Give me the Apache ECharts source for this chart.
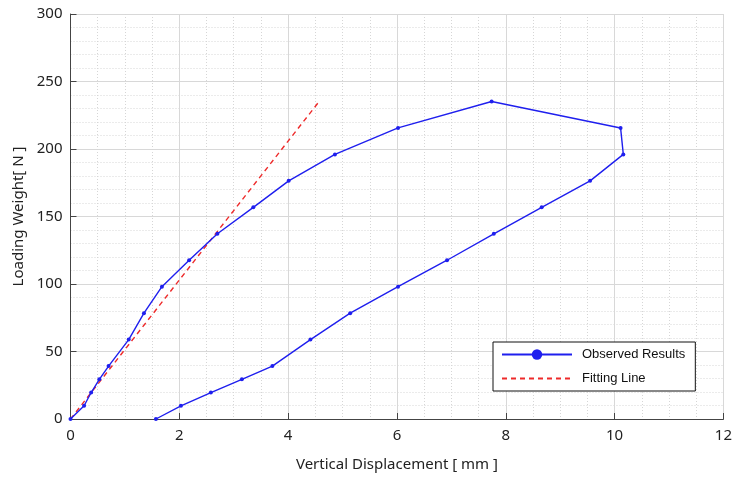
<!DOCTYPE html>
<html><head><meta charset="utf-8">
<script src="https://cdn.jsdelivr.net/npm/echarts@6/dist/echarts.min.js"></script>
<style>html,body{margin:0;padding:0;background:#fff}#c{width:735px;height:477px}</style>
</head><body><div id="c"></div>
<script>
// Observed results: vertical displacement [mm] and loading weight [N]
const displacement = [0, 0.25, 0.38, 0.53, 0.70, 1.07, 1.35, 1.68, 2.18, 2.70, 3.36, 4.01, 4.86, 6.02, 7.74,
  10.11, 10.16, 9.55, 8.66, 7.78, 6.92, 6.02, 5.14, 4.41, 3.71, 3.15, 2.58, 2.03, 1.57];
const load = [0, 9.8, 19.6, 29.4, 39.2, 58.8, 78.4, 98, 117.6, 137.2, 156.8, 176.4, 196, 215.6, 235.2,
  215.6, 196, 176.4, 156.8, 137.2, 117.6, 98, 78.4, 58.8, 39.2, 29.4, 19.6, 9.8, 0];
// Fitting line endpoints
const fitX = [0, 4.57];
const fitY = [0, 235.2];
const xTicks = [0, 2, 4, 6, 8, 10, 12];
const yTicks = [0, 50, 100, 150, 200, 250, 300];

const observed = displacement.map((x, i) => [x, load[i]]);
const fit = fitX.map((x, i) => [x, fitY[i]]);
const font = '"Noto Sans", "Liberation Sans", sans-serif';

const chart = echarts.init(document.getElementById('c'), null, {renderer: 'canvas'});
chart.setOption({
  animation: false,
  backgroundColor: '#fff',
  grid: {left: 70.5, right: 9, top: 14, bottom: 54, containLabel: false},
  xAxis: {
    type: 'value', min: xTicks[0], max: xTicks[xTicks.length - 1], interval: 2,
    name: 'Vertical Displacement [ mm ]', nameLocation: 'middle', nameGap: 38,
    nameTextStyle: {fontFamily: font, fontSize: 15, color: '#222'},
    axisLine: {show: true, lineStyle: {color: '#444', width: 1}},
    axisTick: {show: true, inside: true, length: 6, lineStyle: {color: '#444'}},
    axisLabel: {fontFamily: font, fontSize: 15, color: '#222', margin: 9},
    splitLine: {show: true, lineStyle: {color: '#d8d8d8', width: 1}},
    minorTick: {show: false, splitNumber: 4},
    minorSplitLine: {show: true, lineStyle: {color: '#d6d6d6', type: [1, 2], width: 1}}
  },
  yAxis: {
    type: 'value', min: yTicks[0], max: yTicks[yTicks.length - 1], interval: 50,
    name: 'Loading Weight[ N ]', nameLocation: 'middle', nameGap: 42,
    nameTextStyle: {fontFamily: font, fontSize: 15, color: '#222'},
    axisLine: {show: true, lineStyle: {color: '#444', width: 1}},
    axisTick: {show: true, inside: true, length: 6, lineStyle: {color: '#444'}},
    axisLabel: {fontFamily: font, fontSize: 15, color: '#222', margin: 8},
    splitLine: {show: true, lineStyle: {color: '#d8d8d8', width: 1}},
    minorTick: {show: false, splitNumber: 5},
    minorSplitLine: {show: true, lineStyle: {color: '#d6d6d6', type: [1, 2], width: 1}}
  },
  legend: {
    orient: 'vertical', left: 493, top: 342,
    backgroundColor: '#fff', borderColor: '#111', borderWidth: 1,
    padding: [6, 10, 6, 8], itemGap: 11, itemWidth: 70, itemHeight: 13,
    textStyle: {fontFamily: '"Liberation Sans", Arial, sans-serif', fontSize: 13, color: '#111', padding: [0, 0, 0, 5]},
    data: [
      {name: 'Observed Results'},
      {name: 'Fitting Line', itemStyle: {opacity: 0}}
    ]
  },
  series: [
    {
      name: 'Observed Results', type: 'line', data: observed,
      symbol: 'circle', symbolSize: 4, showSymbol: true,
      lineStyle: {color: '#1f1fee', width: 1.4},
      itemStyle: {color: '#1f1fee'},
      z: 3
    },
    {
      name: 'Fitting Line', type: 'line', data: fit, symbol: 'none',
      lineStyle: {color: '#ee2a2a', width: 1.4, type: [5, 4]},
      itemStyle: {color: '#ee2a2a'},
      z: 2
    }
  ]
});
</script></body></html>
